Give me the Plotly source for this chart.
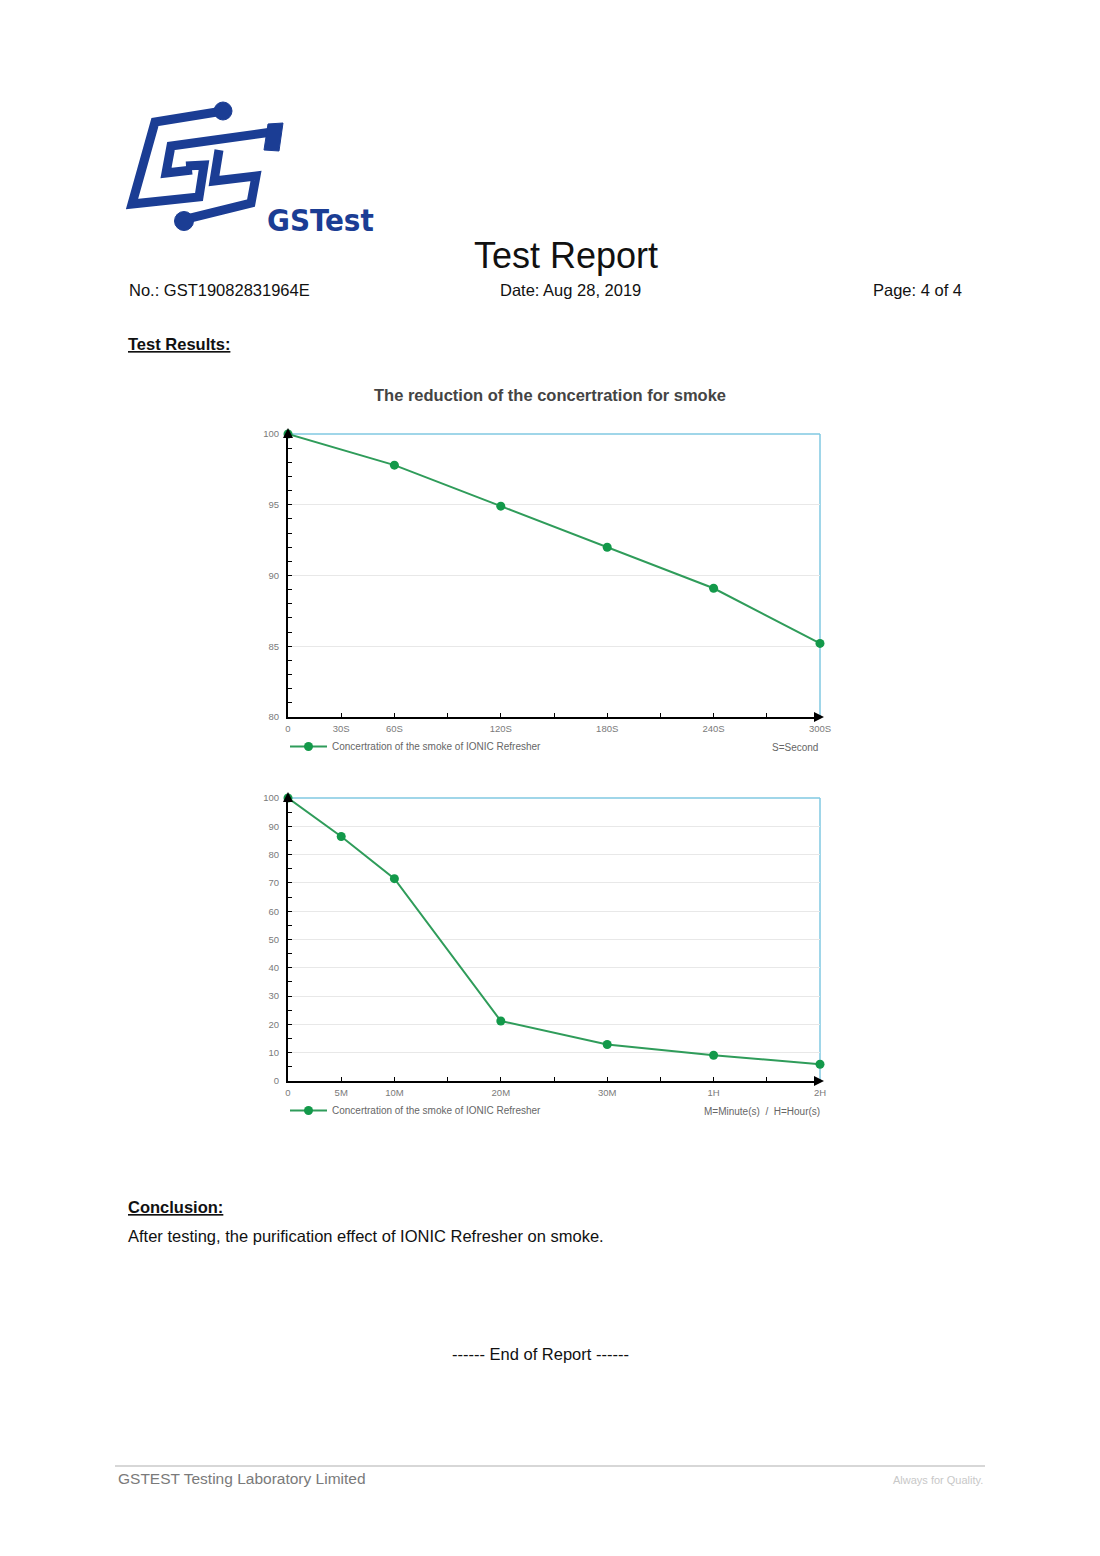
import plotly.graph_objects as go

# ---------------- data ----------------
seconds_1 = [0, 60, 120, 180, 240, 300]
smoke_1 = [100, 97.8, 94.9, 92.0, 89.1, 85.2]
tickvals_1 = [0, 30, 60, 120, 180, 240, 300]
ticktext_1 = ["0", "30S", "60S", "120S", "180S", "240S", "300S"]

slots_2 = [0, 1, 2, 4, 6, 8, 10]
smoke_2 = [100, 86.4, 71.5, 21.2, 12.9, 9.1, 5.9]
ticktext_2 = ["0", "5M", "10M", "20M", "30M", "1H", "2H"]

series_name = "Concertration of the smoke of IONIC Refresher"

# ---------------- page helpers ----------------
W, H = 1100, 1556
def px(x):
    return x / W
def py(y):
    return 1 - y / H

FONT = "Liberation Sans, Arial, Helvetica, sans-serif"
LINE_C = "#2f9c5a"
MARK_C = "#13994a"
FRAME_C = "#80c8e2"
BLUE = "#1b3d94"

fig = go.Figure()

fig.add_trace(go.Scatter(
    x=seconds_1, y=smoke_1, mode="lines+markers", name=series_name,
    line=dict(color=LINE_C, width=2), marker=dict(color=MARK_C, size=9),
    cliponaxis=False, xaxis="x", yaxis="y", legend="legend"))
fig.add_trace(go.Scatter(
    x=slots_2, y=smoke_2, mode="lines+markers", name=series_name,
    line=dict(color=LINE_C, width=2), marker=dict(color=MARK_C, size=9),
    cliponaxis=False, xaxis="x2", yaxis="y2", legend="legend2"))

xdom = [px(288), px(820)]
ax_common = dict(showline=True, linecolor="black", linewidth=2, ticks="inside",
                 ticklen=4, tickcolor="black", tickwidth=1, zeroline=False,
                 tickfont=dict(family=FONT, size=9.5, color="#7a7a7a"))

fig.update_layout(
    width=W, height=H, autosize=False,
    margin=dict(l=0, r=0, t=0, b=0, pad=0, autoexpand=False),
    paper_bgcolor="white", plot_bgcolor="white",
    font=dict(family=FONT),
    showlegend=True,
    xaxis=dict(domain=xdom, anchor="y", range=[0, 300], tickvals=tickvals_1,
               ticktext=ticktext_1, showgrid=False, ticklabelstandoff=2,
               minor=dict(dtick=30, ticks="inside", ticklen=4, tickcolor="black", showgrid=False),
               **ax_common),
    yaxis=dict(domain=[py(717), py(434)], anchor="x", range=[80, 100], dtick=5,
               showgrid=True, gridcolor="#e8e8e8", gridwidth=1, ticklabelstandoff=5,
               minor=dict(dtick=1, ticks="inside", ticklen=4, tickcolor="black", showgrid=False),
               **ax_common),
    xaxis2=dict(domain=xdom, anchor="y2", range=[0, 10], tickvals=slots_2,
                ticktext=ticktext_2, showgrid=False, ticklabelstandoff=2,
                minor=dict(dtick=1, ticks="inside", ticklen=4, tickcolor="black", showgrid=False),
                **ax_common),
    yaxis2=dict(domain=[py(1081), py(798)], anchor="x2", range=[0, 100], dtick=10,
                showgrid=True, gridcolor="#e8e8e8", gridwidth=1, ticklabelstandoff=5,
                minor=dict(dtick=5, ticks="inside", ticklen=4, tickcolor="black", showgrid=False),
                **ax_common),
    legend=dict(x=px(285), y=py(732), xanchor="left", yanchor="top",
                font=dict(family=FONT, size=10, color="#666"), bgcolor="rgba(0,0,0,0)",
                itemwidth=37, tracegroupgap=0),
    legend2=dict(x=px(285), y=py(1096), xanchor="left", yanchor="top",
                 font=dict(family=FONT, size=10, color="#666"), bgcolor="rgba(0,0,0,0)",
                 itemwidth=37, tracegroupgap=0),
)

shapes = []
# light-blue top/right frame for both plots
for xr, yr in (("x domain", "y domain"), ("x2 domain", "y2 domain")):
    shapes.append(dict(type="line", xref=xr, yref=yr, x0=0, x1=1, y0=1, y1=1,
                       line=dict(color=FRAME_C, width=1.5), layer="below"))
    shapes.append(dict(type="line", xref=xr, yref=yr, x0=1, x1=1, y0=0, y1=1,
                       line=dict(color=FRAME_C, width=1.5), layer="below"))

# footer rule
shapes.append(dict(type="line", xref="paper", yref="paper", x0=px(115), x1=px(985),
                   y0=py(1466), y1=py(1466), line=dict(color="#b0b0b0", width=1.2)))

# logo (simplified)
def path(points, close=False):
    s = "M " + " L ".join(f"{px(x):.5f},{py(y):.5f}" for x, y in points)
    return s + (" Z" if close else "")

logo_strokes = [
    [(223, 111), (155, 122), (132, 204), (199, 197), (204, 165), (186, 166)],
    [(279, 131), (171, 146), (166, 173), (192, 170)],
    [(219, 150), (214, 181), (256, 176), (251, 203), (186, 219)],
]
for pts in logo_strokes:
    shapes.append(dict(type="path", xref="paper", yref="paper", path=path(pts),
                       line=dict(color=BLUE, width=9), fillcolor="rgba(0,0,0,0)"))
shapes.append(dict(type="path", xref="paper", yref="paper",
                   path=path([(268, 124), (283, 123), (279, 151), (264, 150)], close=True),
                   line=dict(color=BLUE, width=1), fillcolor=BLUE))
for cx, cy, r in ((223, 111, 9), (184, 221, 9.5)):
    shapes.append(dict(type="circle", xref="paper", yref="paper",
                       x0=px(cx - r), x1=px(cx + r), y0=py(cy + r), y1=py(cy - r),
                       line=dict(color=BLUE, width=1), fillcolor=BLUE))
fig.update_layout(shapes=shapes)

ann = []
def text(x, y, t, size, color="#111", anchor="left", bold=False, family=FONT):
    if bold:
        t = f"<b>{t}</b>"
    ann.append(dict(x=px(x), y=py(y), xref="paper", yref="paper", text=t,
                    showarrow=False, xanchor=anchor, yanchor="middle",
                    font=dict(family=family, size=size, color=color)))

text(265, 220, "GSTest", 31, BLUE, bold=True,
     family="Liberation Sans Narrow, DejaVu Sans Condensed, Arial Narrow, sans-serif")
text(566, 256, "Test Report", 36, "#111", anchor="center")
text(127, 290, "No.: GST19082831964E", 16.5, "#111")
text(570, 290, "Date: Aug 28, 2019", 16.5, "#111", anchor="center")
text(964, 290, "Page: 4 of 4", 16.5, "#111", anchor="right")
text(126, 344, "<u>Test Results:</u>", 16.5, "#111", bold=True)
text(550, 395, "The reduction of the concertration for smoke", 16.5, "#444", anchor="center", bold=True)
text(820, 747, "S=Second", 10, "#666", anchor="right")
text(822, 1111, "M=Minute(s)  /  H=Hour(s)", 10, "#666", anchor="right")
text(126, 1207, "<u>Conclusion:</u>", 16.5, "#111", bold=True)
text(126, 1236, "After testing, the purification effect of IONIC Refresher on smoke.", 16.5, "#111")
text(540, 1354, "------ End of Report ------", 16.5, "#111", anchor="center")
text(116, 1478, "GSTEST Testing Laboratory Limited", 15.5, "#7a7a7a")
text(985, 1480, "Always for Quality.", 11, "#c8c8c8", anchor="right")

# axis arrow heads
for xr, yr in (("x domain", "y domain"), ("x2 domain", "y2 domain")):
    ann.append(dict(x=0, y=1, xref=xr, yref=yr, ax=0, ay=8, axref="pixel", ayref="pixel",
                    text="", showarrow=True, arrowhead=2, arrowsize=1, arrowwidth=2,
                    arrowcolor="black", standoff=0, yshift=6))
    ann.append(dict(x=1, y=0, xref=xr, yref=yr, ax=-8, ay=0, axref="pixel", ayref="pixel",
                    text="", showarrow=True, arrowhead=2, arrowsize=1, arrowwidth=2,
                    arrowcolor="black", standoff=0, xshift=4))
fig.update_layout(annotations=ann)

fig.write_html("out.html", config={"displayModeBar": False},
               post_script="document.body.style.margin='0';")
